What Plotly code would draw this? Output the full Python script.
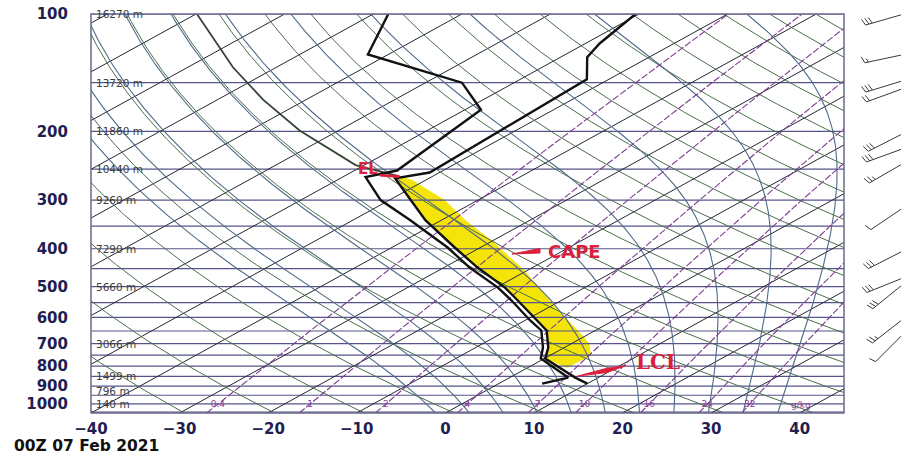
import numpy as np
import plotly.graph_objects as go

# ---------------- data ----------------
temp_p = [887, 856, 765, 717, 648, 611, 543, 503, 447, 397, 338, 300, 264, 255, 147, 129, 119, 100]
temp_c = [10.0, 7.4, 0.1, -1.8, -5.5, -8.6, -14.9, -19.0, -26.2, -32.9, -41.8, -47.6, -53.8, -51.1, -52.5, -57.0, -58.4, -60.4]
dewp_p = [887, 856, 765, 717, 648, 611, 543, 503, 447, 397, 338, 300, 262, 252, 176, 150, 127, 100]
dewp_c = [4.9, 6.6, -0.4, -2.4, -6.1, -9.4, -15.6, -19.8, -27.1, -33.7, -43.5, -51.0, -57.4, -55.2, -58.2, -65.9, -82.3, -88.3]
parcel_p = [807, 751, 700, 648, 566, 455, 381, 338, 300, 267, 261]
parcel_c = [4.4, 4.6, 2.0, -2.0, -9.2, -20.3, -30.2, -37.3, -43.8, -51.5, -53.7]
parcel_up_p = [261, 244, 199, 166, 137, 100]
parcel_up_c = [-53.7, -61.0, -74.4, -84.8, -94.9, -109.9]

press_ticks = [100, 200, 300, 400, 500, 600, 700, 800, 900, 1000]
temp_ticks = [-40, -30, -20, -10, 0, 10, 20, 30, 40]
height_p = [100, 150, 200, 250, 300, 400, 500, 700, 850, 925, 1000]
height_lbl = ["16270 m", "13720 m", "11860 m", "10440 m", "9260 m", "7290 m",
              "5660 m", "3066 m", "1499 m", "796 m", "140 m"]
mixr_gkg = [0.4, 1, 2, 4, 7, 10, 16, 24, 32]
mixr_lbl = ["0.4", "1", "2", "4", "7", "10", "16", "24", "32"]

barb_p = [100, 127, 148, 155, 202, 221, 241, 313, 404, 474, 491, 603, 659]
barb_dir = [254, 258, 253, 250, 243, 250, 240, 236, 243, 248, 231, 232, 225]
barb_kt = [30, 15, 30, 20, 30, 30, 25, 10, 30, 30, 30, 25, 10]

title_txt = "00Z 07 Feb 2021"

# ---------------- diagram geometry ----------------
P_BOT, P_TOP = 1055.0, 100.0
SKEW = 80.0          # deg C per decade of pressure
W_PX, H_PX = 901, 454
ML, MT, MB = 91, 14, 41
PLOT_W = 753
PLOT_H = H_PX - MT - MB
PX_PER_DEC = PLOT_H / np.log10(P_BOT / P_TOP)


def skx(t, p):
    return np.asarray(t, float) + SKEW * np.log10(P_BOT / np.asarray(p, float))


def td_from_e(e):
    x = np.log(e / 6.112)
    return 243.5 * x / (17.67 - x)


pp = np.geomspace(P_BOT, P_TOP, 160)

fig = go.Figure()

# yellow CAPE area (parcel vs environment)
env_sel = [(p, t) for p, t in zip(temp_p, temp_c) if 262 <= p <= 770]
env_sel = sorted(env_sel, key=lambda a: a[0])
poly_p = list(parcel_p) + [a[0] for a in env_sel] + [parcel_p[0]]
poly_t = list(parcel_c) + [a[1] for a in env_sel] + [parcel_c[0]]
fig.add_trace(go.Scatter(x=skx(poly_t, poly_p), y=poly_p, mode="lines", fill="toself",
                         fillcolor="#f4e40a", line=dict(color="#f4e40a", width=0.5),
                         hoverinfo="skip"))


def multi(lines):
    xs, ys = [], []
    for x, y in lines:
        xs += list(x) + [None]
        ys += list(y) + [None]
    return xs, ys


# isobars
iso_p = list(range(100, 1051, 50))
xs, ys = multi([([-40, 45], [p, p]) for p in iso_p])
fig.add_trace(go.Scatter(x=xs, y=ys, mode="lines", line=dict(color="#55558a", width=1.2), hoverinfo="skip"))

# isotherms
lines = []
for t in range(-130, 50, 10):
    lines.append((skx(np.full(2, t), [P_BOT, P_TOP]), [P_BOT, P_TOP]))
xs, ys = multi(lines)
fig.add_trace(go.Scatter(x=xs, y=ys, mode="lines", line=dict(color="#262636", width=1.0), hoverinfo="skip"))

# dry adiabats
lines = []
for th in range(200, 490, 10):
    tt = th * (pp / 1000.0) ** 0.2857 - 273.15
    lines.append((skx(tt, pp), pp))
xs, ys = multi(lines)
fig.add_trace(go.Scatter(x=xs, y=ys, mode="lines", line=dict(color="#4a6e4a", width=1.0), hoverinfo="skip"))


# moist adiabats
def moist(t1000):
    def rate(T, p):
        es = 6.112 * np.exp(17.67 * (T - 273.15) / (T - 29.65))
        rs = 0.622 * es / max(p - es, 1e-3)
        Lv, Rd, cp = 2.5e6, 287.04, 1005.7
        return (Rd * T + Lv * rs) / (cp + Lv * Lv * rs * 0.622 / (Rd * T * T))

    def run(p_list):
        T = t1000 + 273.15
        out = [T]
        for i in range(1, len(p_list)):
            p0, p1 = p_list[i - 1], p_list[i]
            dl = np.log(p1 / p0)
            k1 = rate(T, p0)
            k2 = rate(T + k1 * dl, p1)
            T = T + 0.5 * (k1 + k2) * dl
            out.append(T)
        return np.array(out) - 273.15

    up = np.geomspace(1000, P_TOP, 200)
    dn = np.geomspace(1000, P_BOT, 10)
    pa = np.concatenate([dn[::-1], up[1:]])
    ta = np.concatenate([run(dn)[::-1], run(up)[1:]])
    return ta, pa


lines = []
for t0 in range(-4, 40, 4):
    ta, pa = moist(t0)
    lines.append((skx(ta, pa), pa))
xs, ys = multi(lines)
fig.add_trace(go.Scatter(x=xs, y=ys, mode="lines", line=dict(color="#4f6a88", width=1.1), hoverinfo="skip"))

# mixing ratio lines
lines = []
for w in mixr_gkg:
    e = w * pp / (622.0 + w)
    lines.append((skx(td_from_e(e), pp), pp))
xs, ys = multi(lines)
fig.add_trace(go.Scatter(x=xs, y=ys, mode="lines", line=dict(color="#7c3c90", width=1.1, dash="7px,2px"),
                         hoverinfo="skip"))
e1000 = np.array(mixr_gkg) * 1000.0 / (622.0 + np.array(mixr_gkg))
mx = skx(td_from_e(e1000), np.full(len(mixr_gkg), 1000.0))
fig.add_trace(go.Scatter(x=mx, y=[1005] * len(mx), mode="text", text=mixr_lbl,
                         textfont=dict(family="DejaVu Sans", size=9, color="#8a3c96"), hoverinfo="skip"))

# parcel path above the EL
fig.add_trace(go.Scatter(x=skx(parcel_up_c, parcel_up_p), y=parcel_up_p, mode="lines",
                         line=dict(color="#354535", width=1.8), hoverinfo="skip"))

# environment profile
fig.add_trace(go.Scatter(x=skx(dewp_c, dewp_p), y=dewp_p, mode="lines",
                         line=dict(color="#111111", width=2.4), hoverinfo="skip"))
fig.add_trace(go.Scatter(x=skx(temp_c, temp_p), y=temp_p, mode="lines",
                         line=dict(color="#111111", width=2.4), hoverinfo="skip"))


# wind barbs (drawn in pixel space on a side axis)
def y_of(p):
    return MT + PX_PER_DEC * np.log10(p / P_TOP)


def p_of(y):
    return P_TOP * 10 ** ((y - MT) / PX_PER_DEC)


X0 = ML + PLOT_W
bx, by = [], []
for p, d, s in zip(barb_p, barb_dir, barb_kt):
    ox, oy = 904.0, y_of(p)
    ux, uy = np.sin(np.radians(d)), -np.cos(np.radians(d))  # screen coords (y down)
    L = 40.0
    tx, ty = ox + ux * L, oy + uy * L
    bx += [ox - X0, tx - X0, None]
    by += [p_of(oy), p_of(ty), None]
    px_, py_ = -uy, ux
    fx, fy = px_ * 0.94 + ux * 0.34, py_ * 0.94 + uy * 0.34
    n_full, half = int(s // 10), (s % 10) >= 5
    pos = 0.0
    for i in range(n_full):
        sx, sy = tx - ux * pos, ty - uy * pos
        bx += [sx - X0, sx + fx * 7 - X0, None]
        by += [p_of(sy), p_of(sy + fy * 7), None]
        pos += 3.5
    if half:
        if n_full == 0:
            pos += 3.5
        sx, sy = tx - ux * pos, ty - uy * pos
        bx += [sx - X0, sx + fx * 4 - X0, None]
        by += [p_of(sy), p_of(sy + fy * 4), None]
fig.add_trace(go.Scatter(x=bx, y=by, xaxis="x2", yaxis="y", mode="lines",
                         line=dict(color="#3a3a3a", width=1), hoverinfo="skip"))


def paper(px, py):
    return (px - ML) / (W_PX - ML), (H_PX - MB - py) / PLOT_H


shapes = [dict(type="rect", xref="x domain", yref="y domain", x0=0, x1=1, y0=0, y1=1,
               line=dict(color="#6a6a8c", width=1.5))]
red = "#dc1f3c"


def wedge(pts):
    s = ""
    for i, (a, b) in enumerate(pts):
        xp, yp = paper(a, b)
        s += ("M" if i == 0 else "L") + f"{xp:.5f},{yp:.5f} "
    return dict(type="path", xref="paper", yref="paper", path=s + "Z", fillcolor=red,
                line=dict(color=red, width=1))


shapes.append(wedge([(380, 174.5), (399, 175.5), (399, 177.5), (380, 176)]))
shapes.append(wedge([(512, 254), (540, 248.5), (540, 253)]))
shapes.append(wedge([(578, 376), (606, 368.5), (626, 365.5), (607, 372.5)]))

ann = []
for p, t in zip(height_p, height_lbl):
    ann.append(dict(x=0.004, xref="x domain", y=np.log10(p), yref="y", text=t, showarrow=False,
                    xanchor="left", yanchor="middle",
                    font=dict(family="DejaVu Sans", size=10.5, color="#3c3c3c")))
for txt, (cx, cy), fam, sz in [("EL", (368, 169), "DejaVu Sans", 15),
                               ("CAPE", (574, 251), "DejaVu Sans", 18),
                               ("LCL", (658, 362), "DejaVu Serif", 20)]:
    xp, yp = paper(cx, cy)
    ann.append(dict(x=xp, y=yp, xref="paper", yref="paper", text=txt, showarrow=False,
                    xanchor="center", yanchor="middle",
                    font=dict(family=fam, size=sz, color=red, weight="bold")))
xp, yp = paper(12, 446.5)
ann.append(dict(x=xp, y=yp, xref="paper", yref="paper", text=title_txt, showarrow=False,
                xanchor="left", yanchor="middle",
                font=dict(family="DejaVu Sans", size=15.5, color="#111111", weight="bold")))
xp, yp = paper(801, 405)
ann.append(dict(x=xp, y=yp, xref="paper", yref="paper", text="g/kg", showarrow=False,
                xanchor="center", yanchor="middle",
                font=dict(family="DejaVu Sans", size=9, color="#8a3c96")))

fig.update_layout(
    width=W_PX, height=H_PX, margin=dict(l=ML, r=0, t=MT, b=MB),
    paper_bgcolor="white", plot_bgcolor="white", showlegend=False,
    xaxis=dict(domain=[0, PLOT_W / (W_PX - ML)], range=[-40, 45], tickvals=temp_ticks,
               showgrid=False, zeroline=False, showline=False, ticks="",
               ticklabelstandoff=5,
               tickfont=dict(family="DejaVu Sans", size=15, color="#1e2050", weight="bold")),
    yaxis=dict(type="log", range=[np.log10(P_BOT), np.log10(P_TOP)], tickvals=press_ticks,
               ticktext=[str(v) for v in press_ticks], showgrid=False, zeroline=False,
               showline=False, ticks="", ticklabelstandoff=22,
               tickfont=dict(family="DejaVu Sans", size=15, color="#1e2050", weight="bold")),
    xaxis2=dict(domain=[PLOT_W / (W_PX - ML), 1], range=[0, W_PX - X0], visible=False,
                anchor="y"),
    shapes=shapes, annotations=ann,
)

fig.write_html("out.html", config={"displayModeBar": False},
               post_script="document.body.style.margin='0px';document.body.style.overflow='hidden';")
